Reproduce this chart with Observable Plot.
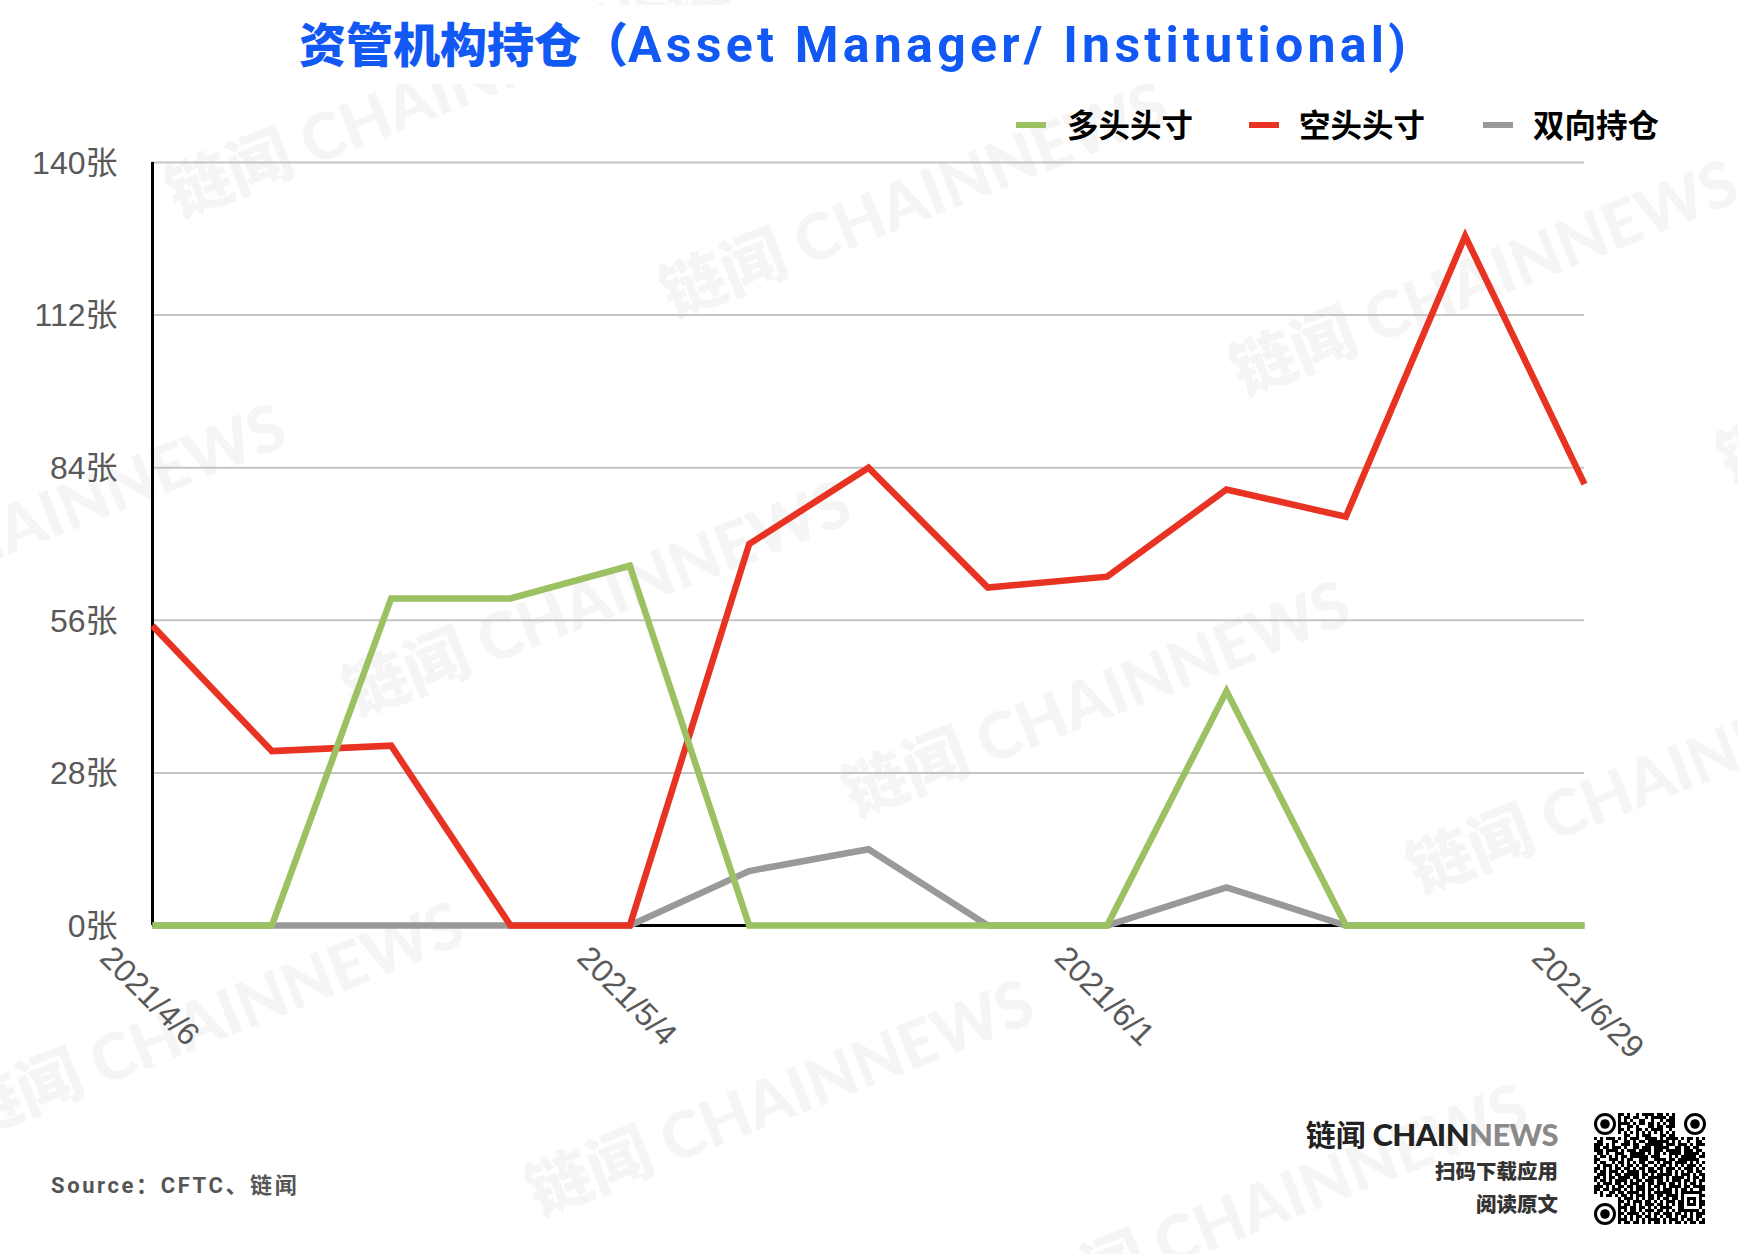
<!DOCTYPE html>
<html><head><meta charset="utf-8">
<script src="https://cdn.jsdelivr.net/npm/d3@7"></script>
<script src="https://cdn.jsdelivr.net/npm/@observablehq/plot@0.6"></script>
<style>
html,body{margin:0;padding:0;background:#fff;}
#page{position:relative;width:1738px;height:1254px;overflow:hidden;background:#fff;}
.abs{position:absolute;white-space:nowrap;line-height:1;}
.wm{position:absolute;white-space:nowrap;line-height:1;font-family:Lato,"Noto Sans CJK SC",sans-serif;font-weight:900;font-size:64px;color:#f5f5f5;transform-origin:0 100%;transform:rotate(-21.4deg);z-index:0;}
#chart{position:absolute;left:0;top:0;z-index:2;}
#band{position:absolute;left:0;top:5px;width:1738px;height:79px;background:#fff;z-index:1;}
.top{z-index:3;}
</style></head><body><div id="page"><div id="band"></div><div id="chart"></div><div id="qr" class="abs top"></div></div>
<script>
const dates=["2021-04-06","2021-04-13","2021-04-20","2021-04-27","2021-05-04","2021-05-11","2021-05-18","2021-05-25","2021-06-01","2021-06-08","2021-06-15","2021-06-22","2021-06-29"].map(d=>new Date(d+"T00:00:00Z"));
const longPos=[0,0,60,60,66,0,0,0,0,43,0,0,0];
const shortPos=[55,32,33,0,0,70,84,62,64,80,75,126.5,81];
const spreadPos=[0,0,0,0,0,10,14,0,0,7,0,0,0];
const yTicks=[0,28,56,84,112,140];
const xTicks=["2021-04-06","2021-05-04","2021-06-01","2021-06-29"].map(d=>new Date(d+"T00:00:00Z"));
const legendItems=[["多头头寸","#9bc162",1016,1067],["空头头寸","#e83323",1249,1299],["双向持仓","#999999",1483,1533]];
const watermarks=[[181,226],[675,326],[1245,404],[358,725],[857,825],[1422,902],[-29,1146],[541,1224],[1035,1328],[-207,648],[1732,492],[675,27]];
const qrRows=[
"........##.#..#.####.##.#.#..........",
"........#.##.##..#.#####.##..........",
"........#.#.#..##..#..#.###..........",
"........####.#.##.##.#.#.##..........",
"........#..##.#...##.##.###..........",
"........##.#..##.#.####..#...........",
"........#.#.#.#.#.#.#.#.#.#..........",
"..........##..#.###...##.##..........",
"#.#.###.#.#.###..####.#.####.#.##.#.#",
".##...##..##.#.##.#######.#.#..#..##.",
"###.#.#..###.##..######.###.###.#.###",
"##.##.###.#..##.###.#####..##.##.##..",
"###.####.#.###.####.###.#####.###.##.",
".##.#..###..#####.#.##.#.####.#####.#",
"#.##.#.#.##.######.###...#.#.#####.##",
"##...###.#.##..###..####.##.#######..",
"#.##..#.##.#.#.##.##.#.###.####.#.#.#",
".#.###.#.#.##.#.##..#.##.#.#.#.###.#.",
"##.#.#.##.##.#.##.##.##.###.#.###.#.#",
"#.##.###.#.####.#.###.#.##.#.#.##.##.",
".###.#.##.#####.##.#.#####.#.###.#.##",
"##.#.##.####.##.#.#####.#.####.#.##.#",
"#.##.#.####.#.##.###.##.#.###.##.#.##",
".#.###.##.#.###.#.##.###.##.#.#.##.#.",
"###.#.#.##.##.###.#.##.#.####.##.####",
"##.##.###.#.#.###.##.#.###.#.##.#..##",
"#.#..##.##.####.#.#.######.#.#######.",
"..#.##.#.##.#.###.##.##.####.#.....##",
"........#.###.#.#.##.#.##.##.#.###.#.",
"........##.#.###.##.#.#.###.##.#.#.##",
"........#.##.#.#.###.##.#.#.##.###.##",
"........###.##.##.#.#.####..##.....#.",
"........#.#.##.#.###.##.#.#.#######.#",
"........##.####.#.#.##.###.##.#.#.###",
"........#.#.#.##.##.#.#.##.#.##.#.##.",
"........###.#.#.#.####.#.###.#.##.#.#",
"........#.##.##.#.#.##.#.#.##.#.##.##"];
const finders=[[3,3],[33,3],[3,33]];

const rows=dates.map((d,i)=>({d,long:longPos[i],short:shortPos[i],spread:spreadPos[i]}));
const textFont='"Liberation Sans","Noto Sans CJK SC",sans-serif';
const lineStyle={x:"d",strokeWidth:6.5,strokeLinejoin:"miter",strokeMiterlimit:10,strokeLinecap:"butt"};
const chart=Plot.plot({
  width:1738,height:1254,marginLeft:152,marginRight:154,marginTop:162,marginBottom:329,
  style:{background:"transparent",fontFamily:textFont,overflow:"visible"},
  x:{type:"utc",domain:[dates[0],dates[dates.length-1]]},
  y:{domain:[0,140]},
  marks:[
    Plot.ruleY(yTicks.slice(1),{stroke:"#c4c4c4",strokeWidth:2}),
    Plot.ruleY([0],{stroke:"#000",strokeWidth:3}),
    Plot.ruleX([dates[0]],{stroke:"#000",strokeWidth:3}),
    Plot.axisY({ticks:yTicks,tickSize:0,tickPadding:35,fontSize:32,fill:"#595959",label:null,dy:1,tickFormat:d=>d+"张"}),
    Plot.axisX({ticks:xTicks,tickSize:0,tickRotate:45,textAnchor:"start",fontSize:32,fill:"#595959",label:null,dx:-47,dy:15,
      tickFormat:d=>`${d.getUTCFullYear()}/${d.getUTCMonth()+1}/${d.getUTCDate()}`}),
    Plot.line(rows,{...lineStyle,y:"spread",stroke:"#999999"}),
    Plot.line(rows,{...lineStyle,y:"short",stroke:"#e83323"}),
    Plot.line(rows,{...lineStyle,y:"long",stroke:"#9bc162"})
  ]
});
document.getElementById("chart").append(chart);

const page=document.getElementById("page");
function add(html,css,cls){const e=document.createElement("div");e.className=cls||"abs top";e.innerHTML=html;Object.assign(e.style,css);page.append(e);return e;}
watermarks.forEach(([x,y])=>add('链闻 CHAINNEWS',{left:x+"px",top:(y-64)+"px"},"wm"));
add('<span>资管机构持仓（</span><span style="font-family:Roboto;font-weight:700;font-size:50px;letter-spacing:4.25px">Asset Manager/ Institutional)</span>',
  {left:"299px",top:"18px",fontFamily:'"Noto Sans CJK SC",sans-serif',fontWeight:900,fontSize:"47px",color:"#1158f5"});
legendItems.forEach(([t,c,x0,x1])=>{
  add("",{left:x0+"px",top:"122px",width:"30px",height:"6px",background:c});
  add(t,{left:x1+"px",top:"108px",fontFamily:'"Noto Sans CJK SC"',fontWeight:700,fontSize:"31.5px",color:"#000"});
});
add('Source：CFTC、链闻',{left:"51px",top:"1175px",fontFamily:'Roboto,"Noto Sans CJK SC"',fontWeight:700,fontSize:"22px",color:"#555",letterSpacing:"2.6px"});
add('链闻 <span style="font-family:Lato;font-weight:900;font-size:31px;letter-spacing:-.6px">CHAIN<span style="color:#8a8a8a">NEWS</span></span>',{right:(1738-1558)+"px",top:"1118px",fontFamily:'"Noto Sans CJK SC"',fontWeight:700,fontSize:"30px",color:"#222"});
add('扫码下载应用',{right:(1738-1558)+"px",top:"1160px",fontFamily:'"Noto Sans CJK SC"',fontWeight:900,fontSize:"20.5px",color:"#333"});
add('阅读原文',{right:(1738-1558)+"px",top:"1193px",fontFamily:'"Noto Sans CJK SC"',fontWeight:900,fontSize:"20.5px",color:"#333"});

const qrCells=[];
qrRows.forEach((r,j)=>[...r].forEach((c,i)=>{if(c==="#")qrCells.push({i,j});}));
const range=d3.range(37);
const qr=Plot.plot({
  width:116,height:116,margin:0,axis:null,
  style:{background:"transparent"},
  x:{type:"band",domain:range,padding:0},
  y:{type:"band",domain:range,padding:0},
  marks:[
    Plot.cell(qrCells,{x:"i",y:"j",fill:"#000"}),
    Plot.dot(finders,{x:d=>d[0],y:d=>d[1],r:9.5,stroke:"#000",strokeWidth:3,fill:"none"}),
    Plot.dot(finders,{x:d=>d[0],y:d=>d[1],r:4.8,fill:"#000"})
  ]
});
const qrBox=document.getElementById("qr");qrBox.style.left="1591px";qrBox.style.top="1110px";qrBox.append(qr);
</script></body></html>
